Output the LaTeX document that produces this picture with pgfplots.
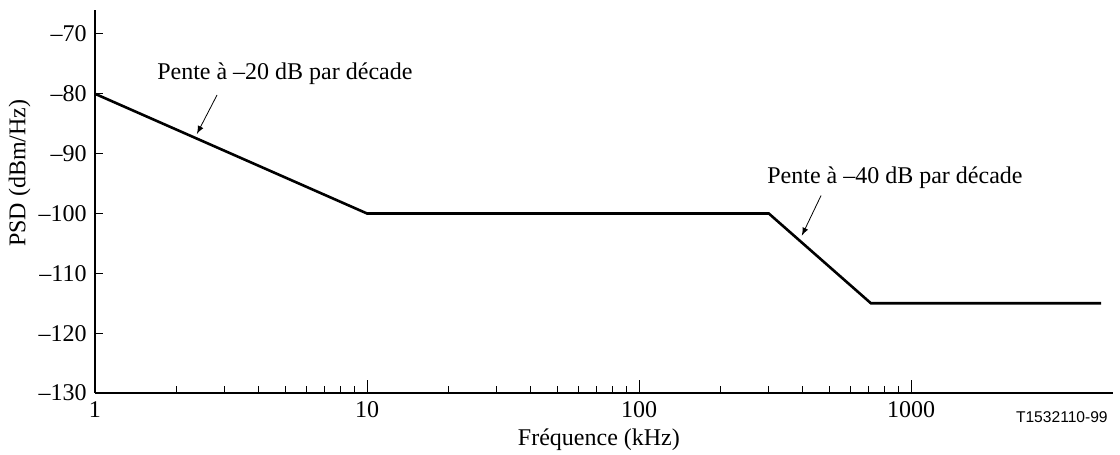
\documentclass[border=0pt]{standalone}
\usepackage{fontspec}
\setmainfont{Liberation Serif}
\newfontfamily\arialfont{Liberation Sans}
\usepackage{pgfplots}
\pgfplotsset{compat=1.18}

\begin{document}
\fontsize{12}{14}\selectfont
\begin{tikzpicture}
\useasboundingbox (-47.5pt,-31pt) rectangle (512.5pt,196.5pt);
\begin{axis}[
    at={(0,0)}, anchor=south west,
    scale only axis,
    width=509pt, height=191.5pt,
    xmode=log,
    xmin=1, xmax=5530, ymin=-130, ymax=-66,
    axis lines=left,
    axis line style={-, line width=0.6pt},
    tick align=inside,
    xtick={1,10,100,1000},
    xticklabels={1,10,100,1000},
    ytick={-130,-120,-110,-100,-90,-80,-70},
    yticklabels={\textendash130,\textendash120,\textendash110,\textendash100,\textendash90,\textendash80,\textendash70},
    major tick length=4pt,
    minor tick length=3.5pt,
    every major tick/.style={black, line width=0.5pt},
    every minor tick/.style={black, line width=0.5pt},
    extra x ticks={10,100,1000},
    extra x tick labels={},
    extra x tick style={major tick length=6.5pt, tick style={line width=1.1pt}},
    tick label style={font=\fontsize{12}{14}\selectfont},
    xlabel={Fréquence (kHz)},
    ylabel={PSD (dBm/Hz)},
    every axis x label/.style={at={(axis description cs:0.495,-0.123)}, anchor=center},
    every axis y label/.style={at={(axis description cs:-0.074,0.574)}, anchor=center, rotate=90},
    clip=false,
]
    % PSD mask
    \addplot[black, line width=1.3pt] coordinates {(1,-80) (10,-100) (300,-100) (712,-115) (5000,-115)};

    % annotations
    \node at (axis cs:4.99,-76.7) {Pente à \textendash20 dB par décade};
    \draw[-latex, line width=0.4pt] (axis cs:2.81,-80.2) -- (axis cs:2.37,-86.7);
    \node at (axis cs:873,-94) {Pente à \textendash40 dB par décade};
    \draw[-latex, line width=0.4pt] (axis cs:467,-97) -- (axis cs:397,-103.7);

    \node[anchor=east, font=\arialfont\fontsize{7.8}{9}\selectfont] at (axis description cs:1.003,-0.063) {T1532110-99};
\end{axis}
\end{tikzpicture}
\end{document}
